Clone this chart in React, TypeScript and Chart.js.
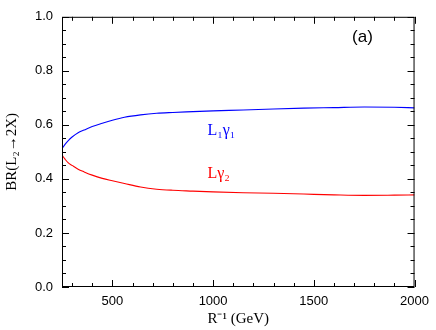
import React, { useEffect, useRef } from "react";
import { Chart, registerables } from "chart.js";

Chart.register(...registerables);

const rInv = [250, 265, 280, 300, 330, 360, 400, 450, 500, 560, 640, 720, 800, 900, 1000, 1150, 1300, 1450, 1600, 1750, 1900, 2000];
const brL1g1 = [0.512, 0.528, 0.541, 0.555, 0.571, 0.581, 0.594, 0.606, 0.617, 0.628, 0.637, 0.643, 0.646, 0.649, 0.652, 0.655, 0.659, 0.662, 0.664, 0.666, 0.665, 0.663];
const brLg2 = [0.488, 0.473, 0.46, 0.45, 0.436, 0.426, 0.414, 0.402, 0.393, 0.383, 0.37, 0.362, 0.358, 0.355, 0.352, 0.349, 0.347, 0.344, 0.341, 0.339, 0.34, 0.341];
const xTicks = [500, 1000, 1500, 2000];
const yTicks = [0, 0.2, 0.4, 0.6, 0.8, 1.0];
const xMinor = [300, 400, 600, 700, 800, 900, 1100, 1200, 1300, 1400, 1600, 1700, 1800, 1900];
const yMinor = [0.05, 0.1, 0.15, 0.25, 0.3, 0.35, 0.45, 0.5, 0.55, 0.65, 0.7, 0.75, 0.85, 0.9, 0.95];
const seriesLabels = ["L\u2081\u03B3\u2081", "L\u03B3\u2082"];
const panelLabel = "(a)";

const framePlugin = {
  id: "frameTicks",
  afterDraw(chart: any) {
    const { ctx, chartArea: a, scales } = chart;
    const xs = scales.x;
    const ys = scales.y;
    ctx.save();
    ctx.strokeStyle = "#000";
    ctx.lineWidth = 1;
    ctx.strokeRect(a.left + 0.5, a.top + 0.5, a.right - a.left - 1, a.bottom - a.top - 1);
    ctx.beginPath();
    const tickX = (v: number, len: number) => {
      const p = Math.round(xs.getPixelForValue(v)) + 0.5;
      ctx.moveTo(p, a.bottom);
      ctx.lineTo(p, a.bottom - len);
      ctx.moveTo(p, a.top);
      ctx.lineTo(p, a.top + len);
    };
    const tickY = (v: number, len: number) => {
      const p = Math.round(ys.getPixelForValue(v)) + 0.5;
      ctx.moveTo(a.left, p);
      ctx.lineTo(a.left + len, p);
      ctx.moveTo(a.right, p);
      ctx.lineTo(a.right - len, p);
    };
    xTicks.forEach((v) => tickX(v, 7));
    xMinor.forEach((v) => tickX(v, 4));
    yTicks.forEach((v) => tickY(v, 7));
    yMinor.forEach((v) => tickY(v, 4));
    ctx.stroke();

    ctx.textBaseline = "alphabetic";
    ctx.textAlign = "left";
    ctx.font = "16px 'Liberation Serif', serif";
    ctx.fillStyle = "#0000ff";
    ctx.fillText(seriesLabels[0], xs.getPixelForValue(972), ys.getPixelForValue(0.564));
    ctx.fillStyle = "#ff0000";
    ctx.fillText(seriesLabels[1], xs.getPixelForValue(972), ys.getPixelForValue(0.404));
    ctx.fillStyle = "#000";
    ctx.font = "17px 'Liberation Sans', Arial, sans-serif";
    ctx.fillText(panelLabel, xs.getPixelForValue(1690), ys.getPixelForValue(0.905));
    ctx.restore();
  },
};

export default function App() {
  const ref = useRef<HTMLCanvasElement>(null);
  useEffect(() => {
    if (!ref.current) return;
    const chart = new Chart(ref.current, {
      type: "line",
      data: {
        datasets: [
          {
            label: seriesLabels[0],
            data: rInv.map((x, i) => ({ x, y: brL1g1[i] })),
            borderColor: "#0000ff",
            borderWidth: 1.1,
            pointRadius: 0,
            cubicInterpolationMode: "monotone",
            fill: false,
          },
          {
            label: seriesLabels[1],
            data: rInv.map((x, i) => ({ x, y: brLg2[i] })),
            borderColor: "#ff0000",
            borderWidth: 1.1,
            pointRadius: 0,
            cubicInterpolationMode: "monotone",
            fill: false,
          },
        ],
      },
      options: {
        animation: false,
        responsive: false,
        events: [],
        layout: { padding: { left: 0, top: 5, right: 16, bottom: 0 } },
        plugins: { legend: { display: false }, tooltip: { enabled: false } },
        scales: {
          x: {
            type: "linear",
            min: 250,
            max: 2000,
            afterBuildTicks: (s: any) => {
              s.ticks = xTicks.map((v) => ({ value: v }));
            },
            afterFit: (s: any) => {
              s.height = 43;
            },
            grid: { display: false, drawTicks: false },
            border: { display: false },
            ticks: {
              color: "#000",
              padding: 7,
              font: { family: "'Liberation Sans', Arial, sans-serif", size: 13 },
              maxRotation: 0,
              callback: (v: any) => String(v),
            },
            title: {
              display: true,
              text: "R\u207B\u00B9 (GeV)",
              color: "#000",
              font: { family: "'Liberation Serif', serif", size: 15 },
              padding: { top: 0, bottom: 2 },
            },
          },
          y: {
            type: "linear",
            min: 0,
            max: 1,
            afterBuildTicks: (s: any) => {
              s.ticks = yTicks.map((v) => ({ value: v }));
            },
            afterFit: (s: any) => {
              s.width = 62;
            },
            grid: { display: false, drawTicks: false },
            border: { display: false },
            ticks: {
              color: "#000",
              padding: 9,
              font: { family: "'Liberation Sans', Arial, sans-serif", size: 13 },
              callback: (v: any) => Number(v).toFixed(1),
            },
            title: {
              display: true,
              text: "BR(L\u2082\u21922X)",
              color: "#000",
              font: { family: "'Liberation Serif', serif", size: 15 },
              padding: { top: 3, bottom: 0 },
            },
          },
        },
      },
      plugins: [framePlugin],
    } as any);
    return () => chart.destroy();
  }, []);
  return (
    <div style={{ position: "fixed", left: 0, top: 0, width: 436, height: 330, background: "#fff" }}>
      <canvas ref={ref} width={436} height={330} />
    </div>
  );
}
